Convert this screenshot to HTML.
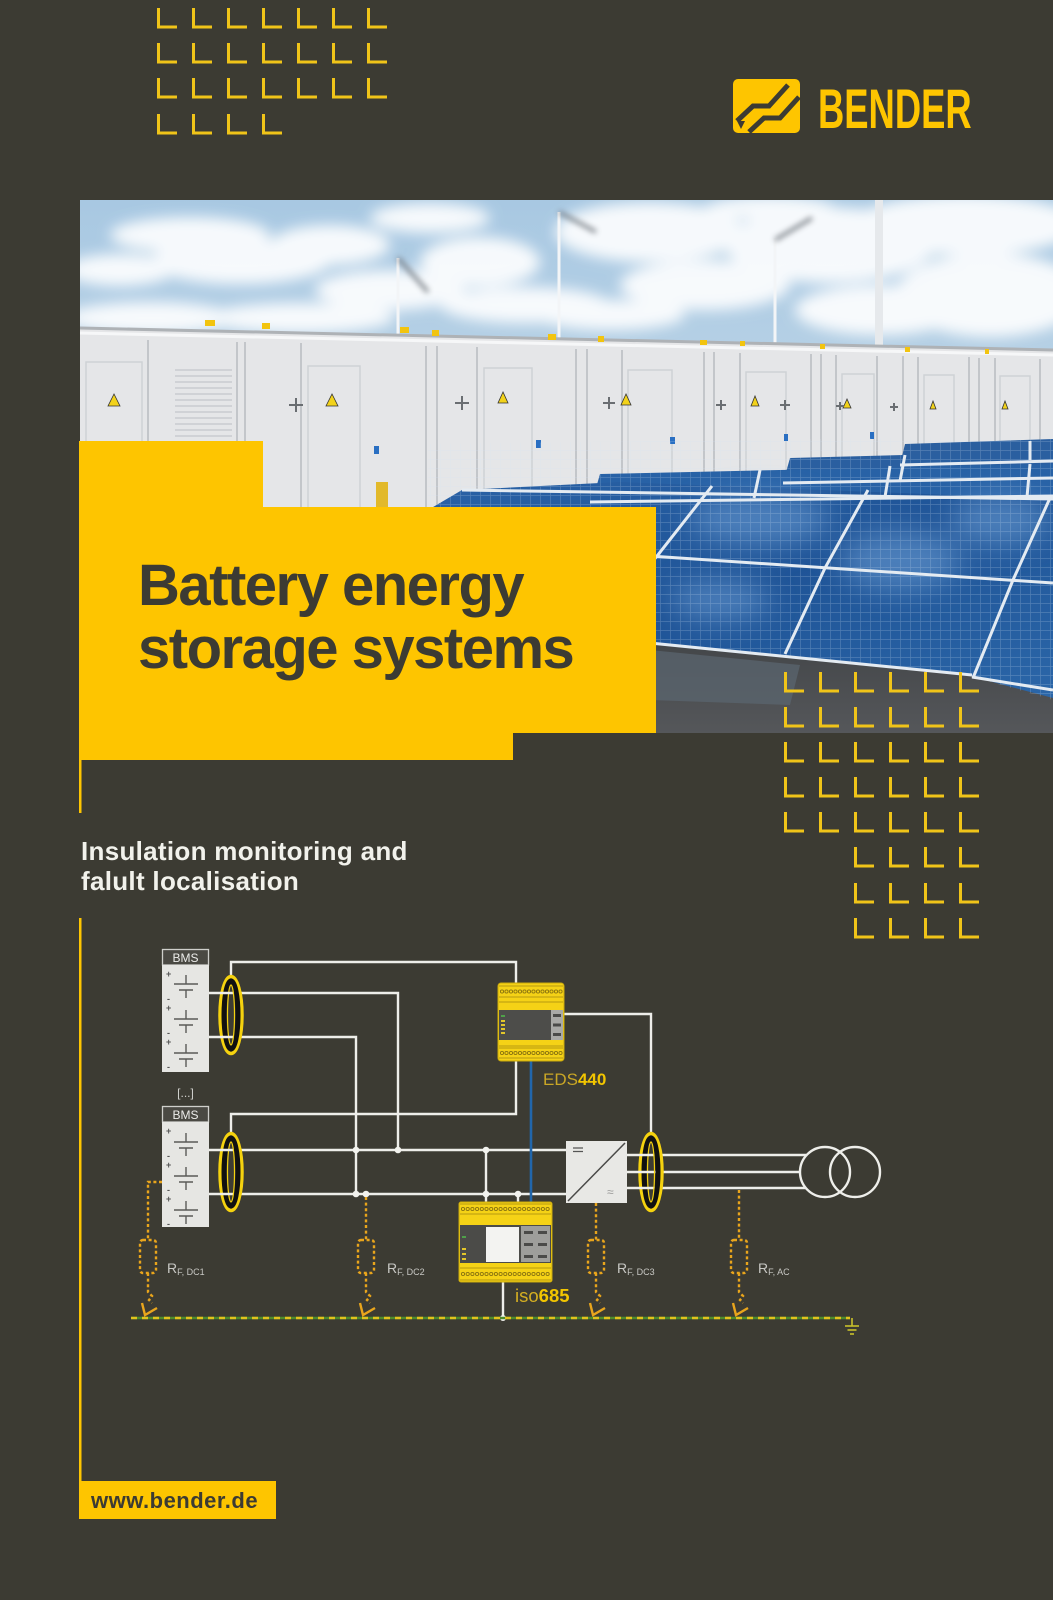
<!DOCTYPE html>
<html><head><meta charset="utf-8">
<style>
html,body{margin:0;padding:0;background:#3c3b33;}
svg{display:block;}
</style></head>
<body>
<svg width="1053" height="1600" viewBox="0 0 1053 1600" xmlns="http://www.w3.org/2000/svg" font-family="'Liberation Sans', sans-serif">
<defs>
  <clipPath id="photo"><rect x="80" y="200" width="973" height="533"/></clipPath>
  <filter id="b8" x="-50%" y="-50%" width="200%" height="200%"><feGaussianBlur stdDeviation="7"/></filter>
  <filter id="b3" x="-50%" y="-50%" width="200%" height="200%"><feGaussianBlur stdDeviation="3"/></filter>
  <filter id="b12" x="-50%" y="-50%" width="200%" height="200%"><feGaussianBlur stdDeviation="14"/></filter>
  <linearGradient id="sky" x1="0" y1="0" x2="0" y2="1">
    <stop offset="0" stop-color="#a8c8e2"/>
    <stop offset="1" stop-color="#d6e4ee"/>
  </linearGradient>
  <linearGradient id="panel" x1="0" y1="0" x2="1" y2="1">
    <stop offset="0" stop-color="#2a62a6"/>
    <stop offset="0.5" stop-color="#1f5497"/>
    <stop offset="1" stop-color="#2b66a8"/>
  </linearGradient>
  <linearGradient id="ground" x1="0" y1="0" x2="0" y2="1">
    <stop offset="0" stop-color="#3f4245"/>
    <stop offset="1" stop-color="#55575a"/>
  </linearGradient>
  <pattern id="cells" width="10" height="9" patternUnits="userSpaceOnUse">
    <path d="M0,0.5 H10 M0.5,0 V9" stroke="#d4e4f3" stroke-width="0.7" fill="none"/>
  </pattern>
</defs>

<rect width="1053" height="1600" fill="#3c3b33"/>

<!-- top-left L grid -->
<g stroke="#f0c419" stroke-width="3" fill="none">
  <path d="M158.5,8 V27 H177 M193.5,8 V27 H212 M228.5,8 V27 H247 M263.5,8 V27 H282 M298.5,8 V27 H317 M333.5,8 V27 H352 M368.5,8 V27 H387"/>
  <path d="M158.5,43 V62 H177 M193.5,43 V62 H212 M228.5,43 V62 H247 M263.5,43 V62 H282 M298.5,43 V62 H317 M333.5,43 V62 H352 M368.5,43 V62 H387"/>
  <path d="M158.5,78 V97 H177 M193.5,78 V97 H212 M228.5,78 V97 H247 M263.5,78 V97 H282 M298.5,78 V97 H317 M333.5,78 V97 H352 M368.5,78 V97 H387"/>
  <path d="M158.5,114 V133 H177 M193.5,114 V133 H212 M228.5,114 V133 H247 M263.5,114 V133 H282"/>
</g>

<!-- logo -->
<g transform="translate(733,79)">
  <rect x="0" y="0" width="67" height="54" rx="5" fill="#fec500"/>
  <path d="M4,42 L20,27 L36,27 L55,6" stroke="#3c3b33" stroke-width="5" fill="none"/>
  <path d="M16,53 L31,39 L47,39 L66,18" stroke="#3c3b33" stroke-width="5" fill="none"/>
  <path d="M4,42 L12,42 L8,50 Z" fill="#3c3b33"/>
</g>
<text transform="translate(818,128) scale(0.65,1)" font-size="56" font-weight="bold" fill="#fec500">BENDER</text>

<!-- photo -->
<g clip-path="url(#photo)">
  <rect x="80" y="200" width="973" height="533" fill="url(#sky)"/>
  <g fill="#ffffff" filter="url(#b8)" opacity="0.9">
    <ellipse cx="190" cy="235" rx="80" ry="18"/>
    <ellipse cx="240" cy="262" rx="90" ry="22"/>
    <ellipse cx="120" cy="270" rx="55" ry="16"/>
    <ellipse cx="330" cy="245" rx="60" ry="20"/>
    <ellipse cx="390" cy="290" rx="75" ry="20"/>
    <ellipse cx="480" cy="262" rx="60" ry="25"/>
    <ellipse cx="525" cy="305" rx="85" ry="18"/>
    <ellipse cx="650" cy="232" rx="95" ry="30"/>
    <ellipse cx="705" cy="285" rx="85" ry="25"/>
    <ellipse cx="830" cy="245" rx="105" ry="38"/>
    <ellipse cx="965" cy="225" rx="115" ry="30"/>
    <ellipse cx="990" cy="295" rx="95" ry="42"/>
    <ellipse cx="880" cy="310" rx="85" ry="25"/>
    <ellipse cx="610" cy="315" rx="75" ry="15"/>
    <ellipse cx="300" cy="318" rx="95" ry="15"/>
    <ellipse cx="150" cy="318" rx="85" ry="16"/>
    <ellipse cx="430" cy="218" rx="60" ry="15"/>
    <ellipse cx="770" cy="208" rx="65" ry="12"/>
  </g>
  <!-- turbines -->
  <g stroke="#f3f5f7" stroke-width="3">
    <line x1="398" y1="258" x2="398" y2="340"/>
    <line x1="559" y1="212" x2="559" y2="340"/>
    <line x1="775" y1="238" x2="775" y2="348"/>
  </g>
  <rect x="875" y="200" width="8" height="150" fill="#e6e9ec"/>
  <g stroke="#6f767d" stroke-width="4" filter="url(#b3)" opacity="0.8">
    <line x1="398" y1="258" x2="428" y2="292"/>
    <line x1="559" y1="212" x2="596" y2="232"/>
    <line x1="775" y1="240" x2="812" y2="218"/>
  </g>
  <!-- containers -->
  <polygon points="80,328 1053,350 1053,520 80,520" fill="#e5e6e8"/>
  <line x1="80" y1="328" x2="1053" y2="350" stroke="#aeb2b6" stroke-width="3"/>
  <line x1="80" y1="333" x2="1053" y2="355" stroke="#f6f7f8" stroke-width="3"/>
  <g stroke="#c3c6ca" stroke-width="2">
    <line x1="148" y1="340" x2="148" y2="520"/>
    <line x1="237" y1="342" x2="237" y2="520"/>
    <line x1="245" y1="342" x2="245" y2="520"/>
    <line x1="301" y1="343" x2="301" y2="520"/>
    <line x1="426" y1="346" x2="426" y2="520"/>
    <line x1="437" y1="346" x2="437" y2="520"/>
    <line x1="477" y1="347" x2="477" y2="520"/>
    <line x1="576" y1="349" x2="576" y2="520"/>
    <line x1="587" y1="349" x2="587" y2="520"/>
    <line x1="622" y1="350" x2="622" y2="520"/>
    <line x1="704" y1="352" x2="704" y2="520"/>
    <line x1="714" y1="352" x2="714" y2="520"/>
    <line x1="740" y1="353" x2="740" y2="520"/>
    <line x1="811" y1="354" x2="811" y2="520"/>
    <line x1="821" y1="354" x2="821" y2="520"/>
    <line x1="836" y1="355" x2="836" y2="520"/>
    <line x1="877" y1="356" x2="877" y2="520"/>
    <line x1="903" y1="356" x2="903" y2="520"/>
    <line x1="918" y1="357" x2="918" y2="520"/>
    <line x1="969" y1="357" x2="969" y2="520"/>
    <line x1="979" y1="358" x2="979" y2="520"/>
    <line x1="995" y1="358" x2="995" y2="520"/>
    <line x1="1040" y1="359" x2="1040" y2="520"/>
  </g>
  <!-- doors -->
  <g fill="none" stroke="#cfd2d5" stroke-width="1.5">
    <rect x="86" y="362" width="56" height="150"/>
    <rect x="308" y="366" width="52" height="146"/>
    <rect x="484" y="368" width="48" height="144"/>
    <rect x="628" y="370" width="44" height="142"/>
    <rect x="746" y="372" width="40" height="140"/>
    <rect x="842" y="374" width="32" height="138"/>
    <rect x="924" y="375" width="30" height="137"/>
    <rect x="1000" y="376" width="30" height="136"/>
  </g>
  <!-- louvers -->
  <g stroke="#c9ccd0" stroke-width="1.5">
    <line x1="175" y1="370" x2="232" y2="370"/><line x1="175" y1="376" x2="232" y2="376"/>
    <line x1="175" y1="382" x2="232" y2="382"/><line x1="175" y1="388" x2="232" y2="388"/>
    <line x1="175" y1="394" x2="232" y2="394"/><line x1="175" y1="400" x2="232" y2="400"/>
    <line x1="175" y1="406" x2="232" y2="406"/><line x1="175" y1="412" x2="232" y2="412"/>
    <line x1="175" y1="418" x2="232" y2="418"/><line x1="175" y1="424" x2="232" y2="424"/>
    <line x1="175" y1="430" x2="232" y2="430"/><line x1="175" y1="436" x2="232" y2="436"/>
  </g>
  <!-- warning triangles -->
  <g fill="#f2d21a" stroke="#333" stroke-width="0.8">
    <polygon points="114,394 108,406 120,406"/>
    <polygon points="332,394 326,406 338,406"/>
    <polygon points="503,392 498,403 508,403"/>
    <polygon points="626,394 621,405 631,405"/>
    <polygon points="755,396 751,406 759,406"/>
    <polygon points="847,399 843,408 851,408"/>
    <polygon points="933,401 930,409 936,409"/>
    <polygon points="1005,401 1002,409 1008,409"/>
  </g>
  <!-- handles -->
  <g stroke="#6a6e72" stroke-width="2">
    <path d="M289,405 h14 M296,398 v14"/>
    <path d="M455,403 h14 M462,396 v14"/>
    <path d="M603,403 h12 M609,397 v12"/>
    <path d="M716,405 h10 M721,400 v10"/>
    <path d="M780,405 h10 M785,400 v10"/>
    <path d="M836,406 h8 M840,402 v8"/>
    <path d="M890,407 h8 M894,403 v8"/>
  </g>
  <!-- hazard stripes -->
  <g fill="#f2c40f">
    <rect x="205" y="320" width="10" height="6"/><rect x="262" y="323" width="8" height="6"/>
    <rect x="400" y="327" width="9" height="6"/><rect x="432" y="330" width="7" height="6"/>
    <rect x="548" y="334" width="8" height="6"/><rect x="598" y="336" width="6" height="6"/>
    <rect x="700" y="340" width="7" height="5"/><rect x="740" y="341" width="5" height="5"/>
    <rect x="820" y="344" width="5" height="5"/><rect x="905" y="347" width="5" height="5"/>
    <rect x="985" y="349" width="4" height="5"/>
  </g>
  <!-- blue labels -->
  <g fill="#2a6fc2">
    <rect x="374" y="446" width="5" height="8"/><rect x="536" y="440" width="5" height="8"/>
    <rect x="670" y="437" width="5" height="7"/><rect x="784" y="434" width="4" height="7"/>
    <rect x="870" y="432" width="4" height="7"/>
  </g>
  <rect x="376" y="482" width="12" height="25" fill="#e2b92a"/>

  <!-- ground -->
  <rect x="560" y="620" width="493" height="113" fill="url(#ground)"/>
  <polygon points="650,650 800,665 790,705 650,700" fill="#5b6670" opacity="0.7"/>

  <!-- solar panels back rows -->
  <polygon points="905,444 1053,439 1053,460 900,465" fill="#2b5f9f"/>
  <polygon points="790,458 1053,451 1053,478 783,483" fill="#2a5fa0"/>
  <polygon points="600,474 1053,464 1053,497 592,502" fill="#2862a6"/>
  <!-- front row -->
  <polygon points="428,510 462,490 620,482 1053,499 1053,698 970,676 657,645 430,625" fill="url(#panel)"/>
  <g filter="url(#b12)" fill="#6fa0d6" opacity="0.55">
    <ellipse cx="760" cy="520" rx="70" ry="25"/>
    <ellipse cx="900" cy="560" rx="60" ry="30"/>
    <ellipse cx="720" cy="600" rx="50" ry="20"/>
    <ellipse cx="1000" cy="520" rx="50" ry="25"/>
  </g>
  <polygon points="428,444 1053,436 1053,700 970,676 657,645 428,625" fill="url(#cells)" opacity="0.25"/>
  <g stroke="#e4ebf2" stroke-width="3" fill="none">
    <line x1="590" y1="502" x2="1053" y2="496"/>
    <line x1="783" y1="483" x2="1053" y2="478"/>
    <line x1="900" y1="465" x2="1053" y2="461"/>
    <line x1="462" y1="490" x2="1053" y2="499"/>
    <line x1="590" y1="552" x2="1053" y2="583"/>
    <polyline points="712,486 657,556 620,600"/>
    <polyline points="868,490 825,568 785,654"/>
    <polyline points="1050,498 1013,580 973,678"/>
    <line x1="640" y1="642" x2="972" y2="675"/>
    <line x1="972" y1="677" x2="1053" y2="690"/>
    <line x1="760" y1="470" x2="754" y2="498"/>
    <line x1="890" y1="466" x2="885" y2="497"/>
    <line x1="1030" y1="464" x2="1027" y2="497"/>
    <line x1="905" y1="455" x2="900" y2="481"/>
    <line x1="1030" y1="441" x2="1030" y2="460"/>
  </g>
</g>

<!-- yellow title block -->
<polygon points="79,441 263,441 263,507 656,507 656,733 513,733 513,760 79,760" fill="#fec500"/>
<text x="138" y="605" font-size="58" font-weight="bold" letter-spacing="-1.5" fill="#3c3b33">Battery energy</text>
<text x="138" y="668" font-size="58" font-weight="bold" letter-spacing="-1.5" fill="#3c3b33">storage systems</text>

<!-- right L grid -->
<g stroke="#f0c419" stroke-width="3" fill="none">
  <path d="M785.5,672 V691 H804 M820.5,672 V691 H839 M855.5,672 V691 H874 M890.5,672 V691 H909 M925.5,672 V691 H944 M960.5,672 V691 H979"/>
  <path d="M785.5,707 V726 H804 M820.5,707 V726 H839 M855.5,707 V726 H874 M890.5,707 V726 H909 M925.5,707 V726 H944 M960.5,707 V726 H979"/>
  <path d="M785.5,742 V761 H804 M820.5,742 V761 H839 M855.5,742 V761 H874 M890.5,742 V761 H909 M925.5,742 V761 H944 M960.5,742 V761 H979"/>
  <path d="M785.5,777 V796 H804 M820.5,777 V796 H839 M855.5,777 V796 H874 M890.5,777 V796 H909 M925.5,777 V796 H944 M960.5,777 V796 H979"/>
  <path d="M785.5,812 V831 H804 M820.5,812 V831 H839 M855.5,812 V831 H874 M890.5,812 V831 H909 M925.5,812 V831 H944 M960.5,812 V831 H979"/>
  <path d="M855.5,847 V866 H874 M890.5,847 V866 H909 M925.5,847 V866 H944 M960.5,847 V866 H979"/>
  <path d="M855.5,883 V902 H874 M890.5,883 V902 H909 M925.5,883 V902 H944 M960.5,883 V902 H979"/>
  <path d="M855.5,918 V937 H874 M890.5,918 V937 H909 M925.5,918 V937 H944 M960.5,918 V937 H979"/>
</g>

<!-- yellow vertical lines -->
<rect x="79" y="760" width="2.5" height="53" fill="#fec500"/>
<rect x="79" y="918" width="2.5" height="563" fill="#fec500"/>

<!-- subtitle -->
<text x="81" y="860" font-size="26" font-weight="bold" letter-spacing="0.3" fill="#f2f2ec">Insulation monitoring and</text>
<text x="81" y="890" font-size="26" font-weight="bold" letter-spacing="0.3" fill="#f2f2ec">falult localisation</text>

<!-- ============ DIAGRAM ============ -->
<!-- BMS boxes -->
<g>
  <rect x="162.5" y="949.5" width="46" height="15.5" fill="#4a4943" stroke="#cfcfcb" stroke-width="1.3"/>
  <text x="185.5" y="962" font-size="12" fill="#ececea" text-anchor="middle">BMS</text>
  <rect x="162" y="965" width="47" height="107" fill="#e6e6e3"/>
  <rect x="162.5" y="1106.5" width="46" height="15.5" fill="#4a4943" stroke="#cfcfcb" stroke-width="1.3"/>
  <text x="185.5" y="1119" font-size="12" fill="#ececea" text-anchor="middle">BMS</text>
  <rect x="162" y="1122" width="47" height="105" fill="#e6e6e3"/>
  <text x="185.5" y="1097" font-size="12" fill="#d0d0cc" text-anchor="middle">[...]</text>
</g>
<!-- battery cells -->
<g stroke="#5a5a58" stroke-width="1.4" fill="none">
  <path d="M186,975 V984 M174,984 H198 M179,990 H193 M186,990 V998"/>
  <path d="M186,1010 V1019 M174,1019 H198 M179,1025 H193 M186,1025 V1033"/>
  <path d="M186,1044 V1053 M174,1053 H198 M179,1059 H193 M186,1059 V1067"/>
  <path d="M186,1133 V1142 M174,1142 H198 M179,1148 H193 M186,1148 V1156"/>
  <path d="M186,1167 V1176 M174,1176 H198 M179,1182 H193 M186,1182 V1190"/>
  <path d="M186,1201 V1210 M174,1210 H198 M179,1216 H193 M186,1216 V1224"/>
</g>
<g font-size="9" fill="#555" font-weight="bold">
  <text x="166" y="977">+</text><text x="167" y="1002">-</text>
  <text x="166" y="1011">+</text><text x="167" y="1036">-</text>
  <text x="166" y="1045">+</text><text x="167" y="1070">-</text>
  <text x="166" y="1134">+</text><text x="167" y="1159">-</text>
  <text x="166" y="1168">+</text><text x="167" y="1193">-</text>
  <text x="166" y="1202">+</text><text x="167" y="1227">-</text>
</g>

<!-- white wires -->
<g stroke="#eeeeea" stroke-width="2.4" fill="none" stroke-linejoin="miter">
  <polyline points="231,976 231,962 516,962 516,984"/>
  <polyline points="231,993 398,993 398,1150"/>
  <polyline points="231,1037 356,1037 356,1194"/>
  <polyline points="231,1133 231,1114 516,1114 516,1060"/>
  <line x1="231" y1="1150" x2="566" y2="1150"/>
  <line x1="231" y1="1194" x2="566" y2="1194"/>
  <polyline points="564,1014 651,1014 651,1134"/>
  <line x1="486" y1="1150" x2="486" y2="1203"/>
  <line x1="518" y1="1194" x2="518" y2="1203"/>
  <line x1="503" y1="1282" x2="503" y2="1318"/>
  <line x1="651" y1="1155" x2="806" y2="1155"/>
  <line x1="651" y1="1172" x2="800" y2="1172"/>
  <line x1="651" y1="1188" x2="806" y2="1188"/>
  <circle cx="825" cy="1172" r="25"/>
  <circle cx="855" cy="1172" r="25"/>
</g>

<!-- current transformers -->
<g fill="none">
  <ellipse cx="231" cy="1015" rx="11" ry="38.5" stroke="#f5d20f" stroke-width="3.5"/>
  <ellipse cx="231" cy="1015" rx="7" ry="34" stroke="#111" stroke-width="5"/>
  <ellipse cx="231" cy="1015" rx="3.5" ry="30" stroke="#f5d20f" stroke-width="1.2"/>
  <ellipse cx="231" cy="1172" rx="11" ry="38.5" stroke="#f5d20f" stroke-width="3.5"/>
  <ellipse cx="231" cy="1172" rx="7" ry="34" stroke="#111" stroke-width="5"/>
  <ellipse cx="231" cy="1172" rx="3.5" ry="30" stroke="#f5d20f" stroke-width="1.2"/>
  <ellipse cx="651" cy="1172" rx="11" ry="38.5" stroke="#f5d20f" stroke-width="3.5"/>
  <ellipse cx="651" cy="1172" rx="7" ry="34" stroke="#111" stroke-width="5"/>
  <ellipse cx="651" cy="1172" rx="3.5" ry="30" stroke="#f5d20f" stroke-width="1.2"/>
</g>
<g stroke="#eeeeea" stroke-width="2.4">
  <line x1="209" y1="993" x2="231" y2="993"/>
  <line x1="209" y1="1037" x2="231" y2="1037"/>
  <line x1="209" y1="1150" x2="231" y2="1150"/>
  <line x1="209" y1="1194" x2="231" y2="1194"/>
  <line x1="627" y1="1155" x2="651" y2="1155"/>
  <line x1="627" y1="1172" x2="651" y2="1172"/>
  <line x1="627" y1="1188" x2="651" y2="1188"/>
</g>

<!-- blue bus -->
<line x1="531" y1="1060" x2="531" y2="1203" stroke="#2166ab" stroke-width="2.6"/>

<!-- converter -->
<rect x="566" y="1141" width="61" height="62" fill="#e8e8e5"/>
<line x1="568" y1="1201" x2="625" y2="1143" stroke="#4a4a48" stroke-width="1.5"/>
<path d="M573,1148 h10 M573,1151.5 h10" stroke="#555" stroke-width="1.3"/>
<text x="607" y="1196" font-size="12" fill="#9a9a98">≈</text>

<!-- EDS440 -->
<g>
  <rect x="498" y="983" width="66" height="78" rx="3" fill="#f5d216" stroke="#c9a80c" stroke-width="1"/>
  <g stroke="#b89a10" stroke-width="1" fill="none">
    <line x1="499" y1="986" x2="563" y2="986"/>
    <line x1="499" y1="997" x2="563" y2="997"/>
    <line x1="499" y1="1002" x2="563" y2="1002"/>
    <line x1="499" y1="1046" x2="563" y2="1046"/>
    <line x1="499" y1="1048" x2="563" y2="1048"/>
    <line x1="499" y1="1058" x2="563" y2="1058"/>
  </g>
  <g stroke="#8a7410" stroke-width="0.9" fill="none">
    <circle cx="502" cy="991.5" r="1.6"/><circle cx="506.5" cy="991.5" r="1.6"/><circle cx="511" cy="991.5" r="1.6"/><circle cx="515.5" cy="991.5" r="1.6"/><circle cx="520" cy="991.5" r="1.6"/><circle cx="524.5" cy="991.5" r="1.6"/><circle cx="529" cy="991.5" r="1.6"/><circle cx="533.5" cy="991.5" r="1.6"/><circle cx="538" cy="991.5" r="1.6"/><circle cx="542.5" cy="991.5" r="1.6"/><circle cx="547" cy="991.5" r="1.6"/><circle cx="551.5" cy="991.5" r="1.6"/><circle cx="556" cy="991.5" r="1.6"/><circle cx="560.5" cy="991.5" r="1.6"/>
    <circle cx="502" cy="1053" r="1.6"/><circle cx="506.5" cy="1053" r="1.6"/><circle cx="511" cy="1053" r="1.6"/><circle cx="515.5" cy="1053" r="1.6"/><circle cx="520" cy="1053" r="1.6"/><circle cx="524.5" cy="1053" r="1.6"/><circle cx="529" cy="1053" r="1.6"/><circle cx="533.5" cy="1053" r="1.6"/><circle cx="538" cy="1053" r="1.6"/><circle cx="542.5" cy="1053" r="1.6"/><circle cx="547" cy="1053" r="1.6"/><circle cx="551.5" cy="1053" r="1.6"/><circle cx="556" cy="1053" r="1.6"/><circle cx="560.5" cy="1053" r="1.6"/>
  </g>
  <rect x="499" y="1010" width="52" height="30" fill="#4d4d4a"/>
  <rect x="551" y="1010" width="12" height="30" fill="#a9a9a6"/>
  <g fill="#4a4a48">
    <rect x="553" y="1014" width="8" height="3"/>
    <rect x="553" y="1023.5" width="8" height="3"/>
    <rect x="553" y="1033" width="8" height="3"/>
  </g>
  <g fill="#e2c62a">
    <rect x="501" y="1015" width="4" height="2" fill="#4fa04a"/>
    <rect x="501" y="1020" width="4" height="2"/>
    <rect x="501" y="1024" width="4" height="2"/>
    <rect x="501" y="1028" width="4" height="2"/>
    <rect x="501" y="1032" width="4" height="2"/>
  </g>
</g>
<text x="543" y="1085" font-size="17" fill="#c9a626">EDS<tspan font-weight="bold" fill="#f2c500">440</tspan></text>

<!-- iso685 -->
<g>
  <rect x="459" y="1202" width="93" height="80" rx="2" fill="#f5d216" stroke="#c9a80c" stroke-width="1"/>
  <g stroke="#b89a10" stroke-width="1">
    <line x1="460" y1="1204" x2="551" y2="1204"/>
    <line x1="460" y1="1214" x2="551" y2="1214"/>
    <line x1="460" y1="1268" x2="551" y2="1268"/>
    <line x1="460" y1="1280" x2="551" y2="1280"/>
  </g>
  <g stroke="#8a7410" stroke-width="0.9" fill="none">
    <circle cx="463" cy="1209" r="1.6"/><circle cx="467.7" cy="1209" r="1.6"/><circle cx="472.4" cy="1209" r="1.6"/><circle cx="477.1" cy="1209" r="1.6"/><circle cx="481.8" cy="1209" r="1.6"/><circle cx="486.5" cy="1209" r="1.6"/><circle cx="491.2" cy="1209" r="1.6"/><circle cx="495.9" cy="1209" r="1.6"/><circle cx="500.6" cy="1209" r="1.6"/><circle cx="505.3" cy="1209" r="1.6"/><circle cx="510" cy="1209" r="1.6"/><circle cx="514.7" cy="1209" r="1.6"/><circle cx="519.4" cy="1209" r="1.6"/><circle cx="524.1" cy="1209" r="1.6"/><circle cx="528.8" cy="1209" r="1.6"/><circle cx="533.5" cy="1209" r="1.6"/><circle cx="538.2" cy="1209" r="1.6"/><circle cx="542.9" cy="1209" r="1.6"/><circle cx="547.6" cy="1209" r="1.6"/>
    <circle cx="463" cy="1274" r="1.6"/><circle cx="467.7" cy="1274" r="1.6"/><circle cx="472.4" cy="1274" r="1.6"/><circle cx="477.1" cy="1274" r="1.6"/><circle cx="481.8" cy="1274" r="1.6"/><circle cx="486.5" cy="1274" r="1.6"/><circle cx="491.2" cy="1274" r="1.6"/><circle cx="495.9" cy="1274" r="1.6"/><circle cx="500.6" cy="1274" r="1.6"/><circle cx="505.3" cy="1274" r="1.6"/><circle cx="510" cy="1274" r="1.6"/><circle cx="514.7" cy="1274" r="1.6"/><circle cx="519.4" cy="1274" r="1.6"/><circle cx="524.1" cy="1274" r="1.6"/><circle cx="528.8" cy="1274" r="1.6"/><circle cx="533.5" cy="1274" r="1.6"/><circle cx="538.2" cy="1274" r="1.6"/><circle cx="542.9" cy="1274" r="1.6"/><circle cx="547.6" cy="1274" r="1.6"/>
  </g>
  <rect x="460" y="1225" width="91" height="38" fill="#4b4b48"/>
  <rect x="486" y="1227" width="33" height="35" fill="#f3f3f1"/>
  <rect x="521" y="1226" width="29" height="36" fill="#9e9e9b"/>
  <g fill="#4a4a48">
    <rect x="524" y="1231" width="9" height="3"/><rect x="538" y="1231" width="9" height="3"/>
    <rect x="524" y="1243" width="9" height="3"/><rect x="538" y="1243" width="9" height="3"/>
    <rect x="524" y="1255" width="9" height="3"/><rect x="538" y="1255" width="9" height="3"/>
  </g>
  <g fill="#e2c62a">
    <rect x="462" y="1236" width="4" height="2" fill="#4fa04a"/>
    <rect x="462" y="1248" width="4" height="2"/>
    <rect x="462" y="1253" width="4" height="2"/>
    <rect x="462" y="1258" width="4" height="2"/>
  </g>
</g>
<text x="515" y="1302" font-size="18.5" fill="#d4ae22">iso<tspan font-weight="bold" fill="#f2c500">685</tspan></text>

<!-- junction dots -->
<g fill="#f2f2ee">
  <circle cx="356" cy="1150" r="3.3"/><circle cx="398" cy="1150" r="3.3"/>
  <circle cx="356" cy="1194" r="3.3"/><circle cx="366" cy="1194" r="3.3"/>
  <circle cx="486" cy="1150" r="3.3"/><circle cx="486" cy="1194" r="3.3"/>
  <circle cx="518" cy="1194" r="3.3"/><circle cx="503" cy="1318" r="3"/>
</g>

<!-- ground conductor -->
<line x1="131" y1="1318" x2="850" y2="1318" stroke="#4b8a2c" stroke-width="2.4"/>
<line x1="131" y1="1318" x2="850" y2="1318" stroke="#e1c31c" stroke-width="2.4" stroke-dasharray="6 5"/>
<g stroke="#c9c22a" stroke-width="1.6">
  <line x1="852" y1="1318" x2="852" y2="1326"/>
  <line x1="845" y1="1326" x2="859" y2="1326"/>
  <line x1="847.5" y1="1330" x2="856.5" y2="1330"/>
  <line x1="850" y1="1334" x2="854" y2="1334"/>
</g>

<!-- fault resistances -->
<g stroke="#e9a51c" stroke-width="2.4" fill="none" stroke-dasharray="3 2.6">
  <polyline points="162,1182 148,1182 148,1240"/>
  <rect x="140" y="1240" width="16" height="33" rx="3"/>
  <path d="M148,1273 V1292 l4,4 l-3,4 l3,3"/>
  <line x1="366" y1="1197" x2="366" y2="1240"/>
  <rect x="358" y="1240" width="16" height="33" rx="3"/>
  <path d="M366,1273 V1292 l4,4 l-3,4 l3,3"/>
  <line x1="596" y1="1203" x2="596" y2="1240"/>
  <rect x="588" y="1240" width="16" height="33" rx="3"/>
  <path d="M596,1273 V1292 l4,4 l-3,4 l3,3"/>
  <line x1="739" y1="1190" x2="739" y2="1240"/>
  <rect x="731" y="1240" width="16" height="33" rx="3"/>
  <path d="M739,1273 V1292 l4,4 l-3,4 l3,3"/>
</g>
<g stroke="#e9a51c" stroke-width="2.4" fill="none">
  <polyline points="142,1303 145,1315 157,1308"/>
  <polyline points="360,1303 363,1315 375,1308"/>
  <polyline points="590,1303 593,1315 605,1308"/>
  <polyline points="733,1303 736,1315 748,1308"/>
</g>
<g fill="#c8c8c4">
  <text x="167" y="1273" font-size="14">R<tspan font-size="9" dy="2">F, DC1</tspan></text>
  <text x="387" y="1273" font-size="14">R<tspan font-size="9" dy="2">F, DC2</tspan></text>
  <text x="617" y="1273" font-size="14">R<tspan font-size="9" dy="2">F, DC3</tspan></text>
  <text x="758" y="1273" font-size="14">R<tspan font-size="9" dy="2">F, AC</tspan></text>
</g>

<!-- url box -->
<rect x="79" y="1481" width="197" height="38" fill="#fec500"/>
<text x="91" y="1508" font-size="22" font-weight="bold" letter-spacing="0.5" fill="#3c3b33">www.bender.de</text>
</svg>
</body></html>
